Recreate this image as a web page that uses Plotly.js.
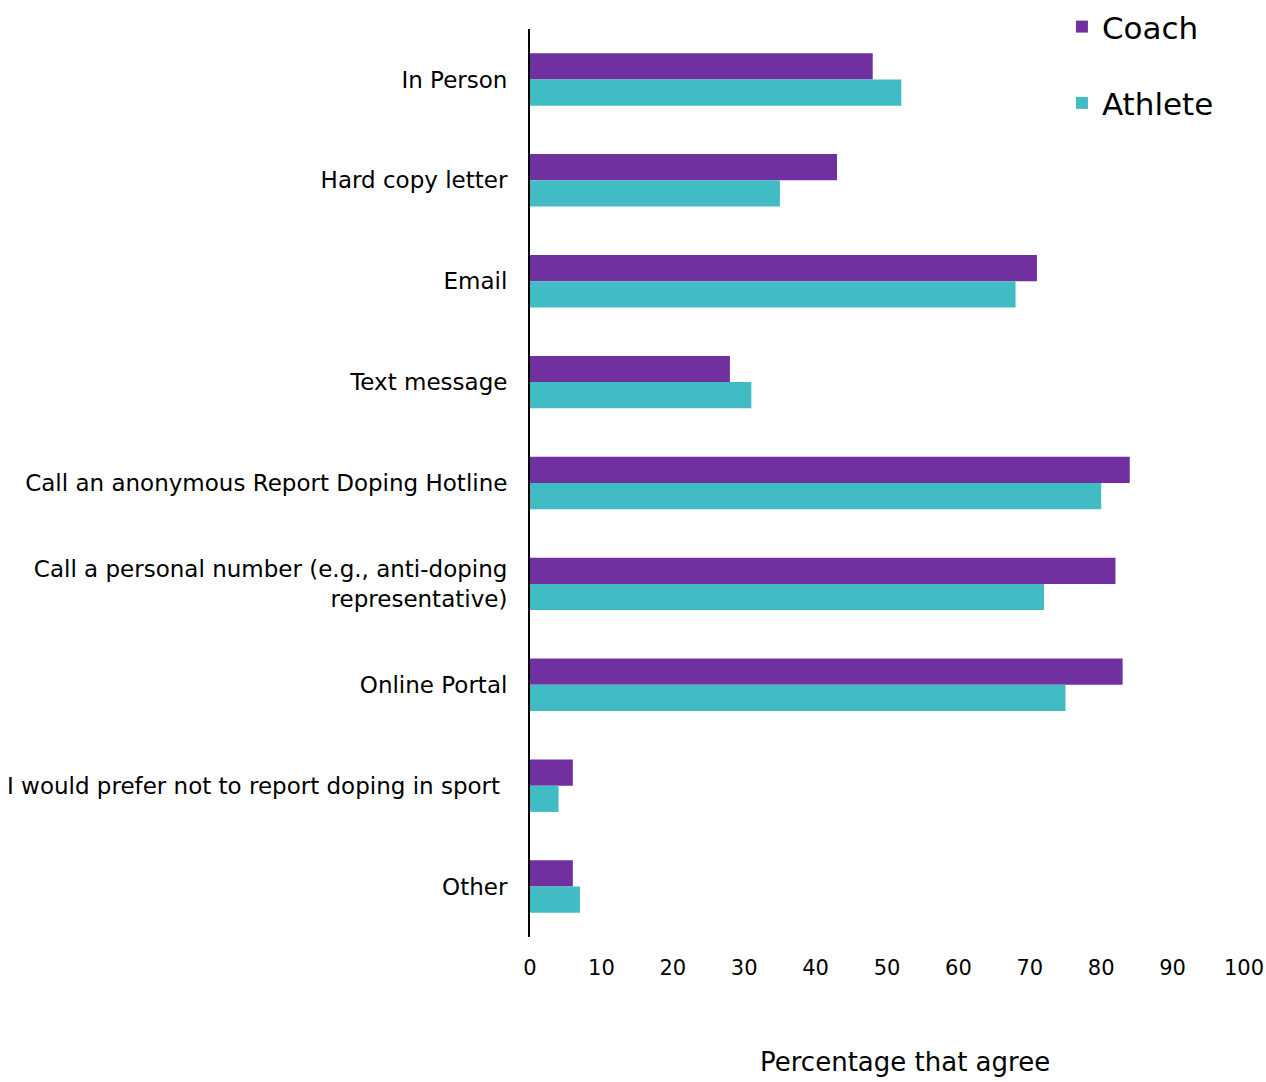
<!DOCTYPE html>
<html>
<head>
<meta charset="utf-8">
<script src="https://cdn.plot.ly/plotly-3.0.1.min.js"></script>
<style>html,body{margin:0;padding:0;background:#fff;}</style>
</head>
<body>
<div id="chart" style="width:1266px;height:1082px;"></div>
<script>
const categories = [
  "In Person",
  "Hard copy letter",
  "Email",
  "Text message",
  "Call an anonymous Report Doping Hotline",
  "Call a personal number (e.g., anti-doping<br>representative)",
  "Online Portal",
  "I would prefer not to report doping in sport ",
  "Other"
];
const coachValues = [48, 43, 71, 28, 84, 82, 83, 6, 6];
const athleteValues = [52, 35, 68, 31, 80, 72, 75, 4, 7];
const xTickValues = [0, 10, 20, 30, 40, 50, 60, 70, 80, 90, 100];

const FONT = "'DejaVu Sans', sans-serif";

const traces = [
  {
    type: "bar", orientation: "h", name: "Coach",
    y: categories, x: coachValues,
    marker: {color: "#7030A0"},
    legendgroup: "c", hoverinfo: "x+y"
  },
  {
    type: "bar", orientation: "h", name: "Athlete",
    y: categories, x: athleteValues,
    marker: {color: "#41BCC4"},
    legendgroup: "a", hoverinfo: "x+y"
  }
];

const layout = {
  width: 1266, height: 1082,
  paper_bgcolor: "#fff", plot_bgcolor: "#fff",
  margin: {l: 530, r: 22, t: 29, b: 145, autoexpand: false},
  barmode: "group",
  bargap: 0.48,
  bargroupgap: 0,
  font: {family: FONT, color: "#000", size: 23},
  xaxis: {
    range: [0, 100],
    tickvals: xTickValues,
    ticktext: xTickValues.map(String),
    showgrid: false, zeroline: false, showline: false,
    ticks: "", ticklabelstandoff: 16,
    tickfont: {family: FONT, size: 21, color: "#000"}
  },
  yaxis: {
    autorange: "reversed",
    type: "category",
    showgrid: false, zeroline: false,
    showline: true, linecolor: "#000", linewidth: 2,
    ticks: "", ticklabelstandoff: 16,
    tickfont: {family: FONT, size: 23, color: "#000"}
  },
  legend: {
    x: 0.745, y: 1.032, xanchor: "left", yanchor: "top",
    traceorder: "grouped", tracegroupgap: 33,
    font: {family: FONT, size: 31, color: "#000"},
    itemwidth: 30, bgcolor: "rgba(0,0,0,0)"
  },
  annotations: [
    {
      text: "Percentage that agree",
      xref: "paper", yref: "paper",
      x: 0.525, y: -0.138, xanchor: "center", yanchor: "middle",
      showarrow: false,
      font: {family: FONT, size: 26, color: "#000"}
    }
  ]
};

Plotly.newPlot("chart", traces, layout, {displayModeBar: false, staticPlot: true});
</script>
</body>
</html>
